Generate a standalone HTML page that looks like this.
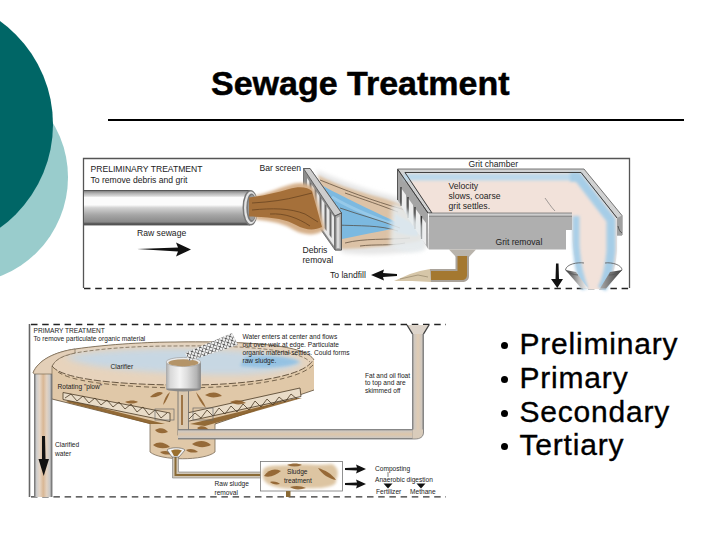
<!DOCTYPE html>
<html><head><meta charset="utf-8">
<style>
html,body{margin:0;padding:0;background:#fff;}
body{width:720px;height:540px;position:relative;overflow:hidden;font-family:"Liberation Sans",sans-serif;}
.abs{position:absolute;}
#title{left:211px;top:63px;font-weight:bold;font-size:34px;letter-spacing:0px;-webkit-text-stroke:0.5px #000;white-space:nowrap;line-height:40px;color:#000;}
#rule{left:108px;top:119px;width:576px;height:2px;background:#000;}
.bl{position:absolute;left:498.5px;font-size:30px;letter-spacing:0.8px;-webkit-text-stroke:0.35px #000;white-space:nowrap;line-height:32px;color:#000;}
.bl i{position:absolute;left:2.7px;width:7px;height:7px;border-radius:50%;background:#000;top:0;}
.bl span{position:absolute;left:21px;top:0;}
svg{position:absolute;left:0;top:0;}
</style></head><body>
<svg width="720" height="540" viewBox="0 0 720 540">
  <circle cx="-38" cy="177.3" r="106" fill="#99CCCC"/>
  <circle cx="-74.3" cy="124.4" r="127.3" fill="#006666"/>
</svg>
<div id="title" class="abs">Sewage Treatment</div>
<div id="rule" class="abs"></div>

<svg id="img1" width="720" height="540" viewBox="0 0 720 540">
  <defs>
    <linearGradient id="pipeG" x1="0" y1="0" x2="0" y2="1">
      <stop offset="0" stop-color="#3a3a3a"/>
      <stop offset="0.04" stop-color="#8a8a8a"/>
      <stop offset="0.09" stop-color="#b0b0b0"/>
      <stop offset="0.17" stop-color="#d8d8d8"/>
      <stop offset="0.21" stop-color="#fbfbfb"/>
      <stop offset="0.42" stop-color="#fbfbfb"/>
      <stop offset="0.5" stop-color="#d2d2d2"/>
      <stop offset="0.7" stop-color="#a6a6a6"/>
      <stop offset="0.9" stop-color="#8a8a8a"/>
      <stop offset="0.96" stop-color="#4a4a4a"/>
      <stop offset="1" stop-color="#6a6a6a"/>
    </linearGradient>
    <filter id="blurU" filterUnits="userSpaceOnUse" x="0" y="0" width="720" height="540"><feGaussianBlur stdDeviation="1.6"/></filter>
    <filter id="blur1" filterUnits="userSpaceOnUse" x="0" y="0" width="720" height="540"><feGaussianBlur stdDeviation="1.6"/></filter>
    <filter id="blur2" filterUnits="userSpaceOnUse" x="0" y="0" width="720" height="540"><feGaussianBlur stdDeviation="0.9"/></filter>
    <filter id="blur4" filterUnits="userSpaceOnUse" x="0" y="0" width="720" height="540"><feGaussianBlur stdDeviation="2.2"/></filter>
    <linearGradient id="funL" x1="0" y1="0" x2="1" y2="0">
      <stop offset="0" stop-color="#333"/><stop offset="0.6" stop-color="#bbb"/><stop offset="1" stop-color="#f4f4f4"/>
    </linearGradient>
    <linearGradient id="funR" x1="0" y1="0" x2="1" y2="0">
      <stop offset="0" stop-color="#aaa"/><stop offset="1" stop-color="#3a3a3a"/>
    </linearGradient>
  </defs>
  <!-- frame -->
  <path d="M83.5 288 V158.5 H629.5 V288" fill="none" stroke="#555" stroke-width="1.3"/>
  <line x1="84" y1="288.5" x2="630" y2="288.5" stroke="#222" stroke-width="1.3" stroke-dasharray="6.5 4.7"/>
  <g font-family="Liberation Sans" font-size="8.6" fill="#222">
    <text x="90.5" y="172">PRELIMINARY TREATMENT</text>
    <text x="90.5" y="182.5">To remove debris and grit</text>
    <text x="259.5" y="170.5">Bar screen</text>
    <text x="468.5" y="167">Grit chamber</text>
    <text x="137" y="236">Raw sewage</text>
    <text x="302.5" y="253">Debris</text>
    <text x="302.5" y="263">removal</text>
    <text x="330" y="278">To landfill</text>
  </g>
  <!-- raw sewage arrow -->
  <path d="M137 249 L178 247.5 L176 242.5 L191 249.5 L176 256.5 L178 251.5 Z" fill="#111"/>
  <!-- pipe -->
  <rect x="84" y="190" width="166" height="35.5" fill="url(#pipeG)"/>
  <ellipse cx="250.5" cy="207.7" rx="8" ry="17.8" fill="#777"/>
  <ellipse cx="250.8" cy="207.7" rx="6.8" ry="16.3" fill="#e4e4e4"/>
  <ellipse cx="251.5" cy="207.7" rx="5.2" ry="14.2" fill="#7a7a7a"/>
  <ellipse cx="252" cy="207.7" rx="4" ry="12.6" fill="#9a9a9a"/>
  <!-- debris water (behind screen) -->
  <path d="M316 170 C335 178 355 186 380 193 C398 197 412 202 424 208 L426 248 C405 254 370 256 343 253 L333 240 Z" fill="#e6e6e6" filter="url(#blur4)"/>
  <path d="M318 175 C333 183 352 190 386 199 C398 203 410 208 420 214 L420 241 C400 245 370 248 342 249 L336 238 Z" fill="#dcc2a6" filter="url(#blur2)"/>
  <path d="M323 186 C336 193 354 202 390 219 L404 226 C390 230 370 233 342 239 L338 214 Z" fill="#7cb9e0"/>
  <path d="M395 214 C402 218 410 222 418 226 L418 236 C410 236 402 234 395 232 Z" fill="#9cc9e6" filter="url(#blur2)"/>
  <path d="M332 197 C350 208 370 216 392 224" stroke="#a8d4ef" stroke-width="3" fill="none" opacity="0.6"/>
  <g stroke="#4a3a2a" stroke-width="0.8" fill="none" opacity="0.8">
    <path d="M320 180 C345 190 370 200 405 210"/>
    <path d="M336 225 C360 226 380 225 398 231"/>
    <path d="M345 243 C365 238 385 240 410 238"/>
    <path d="M340 208 C360 215 380 220 400 228"/>
    <path d="M345 193 C365 200 380 205 398 212"/>
    <path d="M360 246 C375 244 390 246 405 243"/>
  </g>
  <!-- bar screen -->
  <path d="M303.5 168.5 L310 168.5 L341.5 213 L341.5 250 L335 250 L303.5 205 Z" fill="#8c8c8c" stroke="#555" stroke-width="0.7"/>
  <path d="M307 178 L334 217 L334 246 L307 207 Z" fill="#e8e8e8"/>
  <g fill="#6a6a6a">
    <path d="M309.5 181 L311.5 184 L311.5 210 L309.5 207 Z"/>
    <path d="M314.5 188 L316.5 191 L316.5 217 L314.5 214 Z"/>
    <path d="M319.5 195 L321.5 198 L321.5 224 L319.5 221 Z"/>
    <path d="M324.5 203 L326.5 206 L326.5 231 L324.5 228 Z"/>
    <path d="M329.5 210 L331.5 213 L331.5 238 L329.5 235 Z"/>
  </g>
  <path d="M303.5 168.5 L310 168.5 L341.5 213 L335 216 Z" fill="#cdcdcd" stroke="#444" stroke-width="0.7"/>
  <path d="M335 216 L341.5 213 L341.5 250 L335 250 Z" fill="#a6a6a6" stroke="#444" stroke-width="0.7"/>
  <path d="M336.8 218 L339.5 216.5 L339.5 248 L336.8 248 Z" fill="#dadada"/>
  <!-- sludge (in front of screen) -->
  <path d="M256 195.5 C266 194 276 189 289 185 C300 181 309 183 314 189 L325 229 C318 236 305 236 294 230 C285 224 272 221 256 219.5 Z" fill="#d6b08a" filter="url(#blur1)"/>
  <path d="M249 197.5 C262 196 276 193 289 189 C299 186 308 187 312 191 L322 227 C314 231 305 230 296 225 C286 219 272 217 249 216.5 Z" fill="#a5703a"/>
  <g stroke="#5b3a1a" stroke-width="0.8" fill="none" opacity="0.8">
    <path d="M252 203 C270 202 285 200 300 196 L312 193"/>
    <path d="M252 210 C272 208 290 208 305 214 L318 222"/>
    <path d="M270 214 C285 213 298 218 310 226"/>
  </g>
  <!-- grit chamber left side face -->
  <path d="M397.5 169.5 L428 213 L428.5 249.5 L397.5 200 Z" fill="#a4a4a4"/>
  <path d="M397.5 169.5 V200" stroke="#555" stroke-width="1"/>
  <g fill="#eeeeee">
    <path d="M401 188 L406 195 L406 214 L401 206 Z"/>
    <path d="M408 198 L413 205 L413 226 L408 218 Z"/>
    <path d="M415 208 L420 215 L420 236 L415 229 Z"/>
    <path d="M421.5 217 L426 223 L426 245 L421.5 239 Z"/>
  </g>
  <g stroke="#2e2e2e" stroke-width="1.3">
    <line x1="401" y1="187" x2="401" y2="206"/>
    <line x1="408" y1="197" x2="408" y2="218"/>
    <line x1="415" y1="207" x2="415" y2="229"/>
    <line x1="421.5" y1="216" x2="421.5" y2="239"/>
  </g>
  <!-- top rim -->
  <path d="M397.5 169 L405 172.5 L432 213 L428 213 Z" fill="#dadada"/>
  <path d="M397.5 169 L584 169 L622 215.5 L622 235 L617 235 L617 218 L581 172.5 L405 172.5 L432 212.5 L428 213 Z" fill="#d2d2d2" stroke="#555" stroke-width="0.8"/>
  <!-- surface + stream -->
  <path d="M405 172.5 L581 172.5 L617 218 L617 250 C616 265 613 278 606 289 L583 289 C578 275 574 258 572.5 240 L572 213 L432 213 Z" fill="#f2e2da"/>
  <path d="M404 177 L578 177" fill="none" stroke="#bcd9ec" stroke-width="7" filter="url(#blurU)"/>
  <path d="M570 177 L578 177 L611 220 L611 250 C610 264 608 277 602 289" fill="none" stroke="#a6cde7" stroke-width="9" filter="url(#blur1)"/>
  <path d="M576 216 L576 245 C577 262 580 277 585 289" fill="none" stroke="#a9cfe8" stroke-width="7" filter="url(#blur1)"/>
  <path d="M405 172.5 L581 172.5 L617 218" fill="none" stroke="#333" stroke-width="0.9"/>
  <path d="M405 172.5 L432 213 M397.5 169 L428 213" fill="none" stroke="#333" stroke-width="0.9"/>
  <path d="M545 198 C548 202 551 207 555 211" stroke="#666" stroke-width="0.6" fill="none"/>
  <!-- front face -->
  <path d="M429 213 L572 213 L572 230 L566 230 L566 249.5 L429 249.5 Z" fill="#afafaf"/>
  <rect x="429" y="213" width="143" height="3.2" fill="#cdcdcd"/>
  <path d="M429 213 L572 213 M429 216.2 L572 216.2" stroke="#666" stroke-width="0.7"/>
  <g font-family="Liberation Sans" font-size="8.6" fill="#222">
    <text x="448.5" y="189">Velocity</text>
    <text x="448.5" y="199">slows, coarse</text>
    <text x="448.5" y="209">grit settles.</text>
    <text x="495.5" y="245">Grit removal</text>
  </g>
  <path d="M392 205 C400 200 412 215 422 225 L424 250 C412 254 400 252 390 246 Z" fill="#e6ecef" filter="url(#blur4)" opacity="0.85"/>
  <!-- right rim side face -->
  <path d="M617 218 L622 215.5 L622 235 L617 235 Z" fill="#a0a0a0"/>
  <path d="M618 226 C619 230 620 232 622 233" stroke="#333" stroke-width="0.7" fill="none"/>
  <!-- funnel -->
  <path d="M565.5 270 C566 264 578 262 584 263" fill="none" stroke="#555" stroke-width="0.8"/>
  <path d="M605 263 C612 262 622 265 622 270" fill="none" stroke="#555" stroke-width="0.8"/>
  <path d="M565.5 270 L581.5 288.5 L588 288.5 L576 272 Z" fill="url(#funL)"/>
  <path d="M610 272 L600 288.5 L606 288.5 L622 270 Z" fill="url(#funR)"/>
  <path d="M565.5 270 C568 273 574 275 578 275 M609 275 C614 275 620 273 622 270" fill="none" stroke="#555" stroke-width="0.8"/>
  <!-- down arrow -->
  <path d="M556 263.5 L558.5 263.5 L559 279 L563 279 L557.3 288 L551 279 L555.5 279 Z" fill="#111"/>
  <!-- grit removal pipe -->
  <path d="M449 249.5 L476 249.5 L469 257 L456 257 Z" fill="#b9b4ac"/>
  <path d="M455.5 256 L469 256 L469 276 C469 280 466 282 462 282 L430 282 L430 269 L455.5 269 Z" fill="#aaa39a"/>
  <path d="M457.5 256 L467 256 L467 275 C467 278 465 280 462 280 L431 280 L431 271 L457.5 271 Z" fill="#a47830"/>
  <path d="M430 269 L431 282 L412 281 L394 281 L410 274 L420 271 Z" fill="#d6c6a8"/>
  <path d="M400 279 L418 275 L428 277" stroke="#8a7a60" stroke-width="0.6" fill="none"/>
  <!-- to landfill arrow -->
  <path d="M397 274 L383 273 L384 269.5 L371 275 L384 280.5 L383 277 L397 276 Z" fill="#111"/>
</svg>
















<svg id="img2" width="720" height="540" viewBox="0 0 720 540">
  <defs>
    <linearGradient id="wellG" x1="0" y1="0" x2="1" y2="0">
      <stop offset="0" stop-color="#a8a8a8"/>
      <stop offset="0.12" stop-color="#d8d8d8"/>
      <stop offset="0.4" stop-color="#f4f4f4"/>
      <stop offset="0.6" stop-color="#dedede"/>
      <stop offset="0.88" stop-color="#b4b4b4"/>
      <stop offset="1" stop-color="#8a8a8a"/>
    </linearGradient>
    <linearGradient id="lpipeG" x1="0" y1="0" x2="1" y2="0">
      <stop offset="0" stop-color="#7a7a7a"/>
      <stop offset="0.12" stop-color="#cfcfcf"/>
      <stop offset="0.3" stop-color="#e6d6c6"/>
      <stop offset="0.5" stop-color="#d9b794"/>
      <stop offset="0.7" stop-color="#e2d2c2"/>
      <stop offset="0.88" stop-color="#c8c8c8"/>
      <stop offset="1" stop-color="#6a6a6a"/>
    </linearGradient>
    <linearGradient id="hpipeG" x1="0" y1="0" x2="0" y2="1">
      <stop offset="0" stop-color="#7a7a7a"/>
      <stop offset="0.15" stop-color="#cfc8c0"/>
      <stop offset="0.5" stop-color="#ddc6aa"/>
      <stop offset="0.85" stop-color="#cfc8c0"/>
      <stop offset="1" stop-color="#6a6a6a"/>
    </linearGradient>
    <linearGradient id="vpipeG" x1="0" y1="0" x2="1" y2="0">
      <stop offset="0" stop-color="#7a7a7a"/>
      <stop offset="0.15" stop-color="#cfc8c0"/>
      <stop offset="0.5" stop-color="#e0ccb4"/>
      <stop offset="0.85" stop-color="#cfc8c0"/>
      <stop offset="1" stop-color="#6a6a6a"/>
    </linearGradient>
    <pattern id="hatch2" width="4.5" height="4.5" patternUnits="userSpaceOnUse" patternTransform="rotate(-28)">
      <rect width="4.5" height="4.5" fill="#f0f0f0"/>
      <path d="M0 0 L4.5 4.5 M4.5 0 L0 4.5" stroke="#5a5a5a" stroke-width="0.9"/>
    </pattern>
    <filter id="blur3" filterUnits="userSpaceOnUse" x="0" y="0" width="720" height="540"><feGaussianBlur stdDeviation="1.5"/></filter>
    <filter id="blur5" filterUnits="userSpaceOnUse" x="0" y="0" width="720" height="540"><feGaussianBlur stdDeviation="3"/></filter>
  </defs>
  <!-- frame -->
  <path d="M29.5 497 V324" fill="none" stroke="#666" stroke-width="1.6"/>
  <line x1="31" y1="324.5" x2="446" y2="324.5" stroke="#222" stroke-width="1.3" stroke-dasharray="6.5 4.7"/>
  <line x1="31" y1="496.8" x2="446" y2="496.8" stroke="#333" stroke-width="1.3" stroke-dasharray="6.5 4.7"/>

  <!-- tank body -->
  <path d="M33 373 C38 360 55 352 75 349 C110 344 150 342 175 342 C250 341 306 345 314 360 L314 390 L215 424 L215 452 C205 461 160 461 150 452 L150 423.5 L52 399 L52 374 Z" fill="#e0c8a8"/>
  <!-- top surface -->
  <path d="M33 373 C38 360 55 352 75 349 C110 344 150 342 175 342 C250 341 306 345 314 360 C305 376 250 386 175 385 C100 384 60 378 52 366 Z" fill="#e7d3bc"/>
  <path d="M65 357 C90 350 150 348 200 349 C260 351 298 356 303 363 C290 372 250 376 200 374 C140 372 85 368 65 357 Z" fill="#c2d8ea" filter="url(#blur5)" opacity="0.85"/>
  <path d="M245 357 C265 354 292 357 300 362 C288 368 262 369 240 366 Z" fill="#8dbfe3" filter="url(#blur3)" opacity="0.85"/>
  <!-- rim lines -->
  <path d="M33 373 C38 360 55 352 75 349 C110 344 150 342 175 342 C250 341 306 345 314 360" fill="none" stroke="#6a5a45" stroke-width="0.8"/>
  <path d="M52 366 C56 359 62 356 75 353 C110 347 150 346 175 346 C245 345 300 350 310 362" fill="none" stroke="#6a5a45" stroke-width="0.7" stroke-dasharray="4 2"/>
  <path d="M52 366 C60 377 100 384 175 385 C250 386 305 376 313 360" fill="none" stroke="#5a4a35" stroke-width="0.9" stroke-dasharray="7 2"/>
  <path d="M58 372 C70 380 100 386 175 388 C250 388 300 379 313 365" fill="none" stroke="#5a4a35" stroke-width="0.8" stroke-dasharray="5 3"/>
  <path d="M150 423.5 L150 452 C160 461 205 461 215 452 L215 424" fill="none" stroke="#7a6a55" stroke-width="0.8"/>
  <!-- cone edge -->
  <path d="M52 399 L150 423.5 M215 424 L314 390" fill="none" stroke="#5a4a35" stroke-width="0.8"/>
  <!-- plows -->
  <g>
    <path d="M70 400 L165 424 L150 424 L66 402 Z" fill="#8a5f2a" opacity="0.9"/>
    <path d="M63 392.5 L170 413 L170 421.5 L63 399.5 Z" fill="#e9dcc8" stroke="#4a3a25" stroke-width="0.8"/>
    <path d="M65 398 L71 394 L77 401 L83 396 L89 403 L95 398 L101 405 L107 400 L113 407 L119 402 L125 409 L131 404 L137 412 L143 407 L149 415 L155 410 L161 418 L167 413" fill="none" stroke="#4a3a25" stroke-width="0.8"/>
    <path d="M190 424 L296 398 L302 398 L205 426 Z" fill="#8a5f2a" opacity="0.9"/>
    <path d="M187 413 L300 388 L301 396.5 L187 421.5 Z" fill="#e9dcc8" stroke="#4a3a25" stroke-width="0.8"/>
    <path d="M189 419 L195 413 L201 418 L207 410 L213 416 L219 408 L225 414 L231 406 L237 412 L243 404 L249 410 L255 401 L261 407 L267 399 L273 405 L279 397 L285 402 L291 394 L297 399" fill="none" stroke="#4a3a25" stroke-width="0.8"/>
  </g>
  <!-- sludge streaks -->
  <g fill="#8a5a25" opacity="0.85">
    <path d="M150 397 C155 392 160 391 163 393 C160 396 155 398 150 397 Z"/>
    <path d="M196 392 C200 397 204 402 206 408 C201 404 198 398 196 392 Z"/>
    <path d="M205 395 C212 391 218 392 222 396 C215 398 210 398 205 395 Z"/>
    <path d="M125 402 C130 400 135 400 138 402 C133 404 129 404 125 402 Z"/>
    <path d="M230 402 C236 399 242 400 246 403 C240 405 235 405 230 402 Z"/>
    <path d="M170 392 C168 397 166 402 163 405 C164 400 166 395 170 392 Z"/>
    <path d="M155 430 C160 427 165 428 168 432 C163 434 158 434 155 430 Z"/>
    <path d="M192 444 C198 440 206 440 211 445 C205 448 198 448 192 444 Z"/>
    <path d="M153 445 C158 441 165 442 170 447 C164 449 158 449 153 445 Z"/>
    <path d="M197 428 C201 425 206 426 209 430 C204 431 200 431 197 428 Z"/>
    <path d="M160 452 C165 450 170 451 172 454 C168 455 163 455 160 452 Z"/>
    <path d="M186 450 C190 448 195 449 198 452 C193 453 189 453 186 450 Z"/>
    <path d="M205 437 C208 434 211 434 213 437 C210 439 207 439 205 437 Z"/>
  </g>
  <!-- scrapers -->
  <g fill="none" stroke="#6a6a6a" stroke-width="0.7">
    <rect x="155" y="409" width="19" height="11"/>
    <rect x="193" y="408" width="20" height="12"/>
  </g>
  <!-- center column -->
  <rect x="178" y="389" width="10.5" height="46" fill="#dac8b0" stroke="#6a6a6a" stroke-width="0.8"/>
  <path d="M182 395 L182 425" stroke="#8a5a25" stroke-width="1.5"/>
  <!-- effluent pipe -->
  <path d="M178 429.5 H418 V439 H178 Z" fill="url(#hpipeG)"/>
  <!-- right vertical pipe -->
  <path d="M412.5 334 L423.5 334 L423.5 432 C423.5 437 420 439 415 439 L412.5 439 Z" fill="url(#vpipeG)"/>
  <path d="M412.5 429.5 L412.5 439 L415 439 C420 439 423.5 437 423.5 432 L423.5 429.5 Z" fill="#d9ccbb"/>
  <path d="M178 429.5 H412.5 V334 M423.5 334 V432 C423.5 437 420 439 415 439 H178" fill="none" stroke="#7a7a7a" stroke-width="0.8"/>
  <path d="M407 325 L429 325 L423.5 334 L412.5 334 Z" fill="#ddd4ca"/>
  <path d="M407 325 L412.5 334 M429 325 L423.5 334" stroke="#444" stroke-width="1.4"/>
  <!-- center well -->
  <rect x="166" y="362" width="34.7" height="27" fill="url(#wellG)"/>
  <ellipse cx="183.4" cy="389" rx="17.35" ry="2.5" fill="#8a8a8a"/>
  <rect x="166" y="362" width="34.7" height="26.5" fill="url(#wellG)"/>
  <ellipse cx="183.4" cy="362" rx="17.35" ry="4.6" fill="#eaeaea" stroke="#888" stroke-width="0.5"/>
  <ellipse cx="183.4" cy="362.8" rx="15" ry="3.6" fill="#b49468"/>
  <!-- chain feed -->
  <path d="M185 353 L232 333 L238 345 L189 361 Z" fill="url(#hatch2)"/>
  <!-- left pipe -->
  <rect x="34.5" y="373" width="17.5" height="124" fill="url(#lpipeG)"/>
  <path d="M33 373 C38 360 55 352 75 349 L75 353 C62 356 56 359 52 366 L52 374 L34.5 374 Z" fill="#e3cfb8" stroke="#6a5a45" stroke-width="0.6"/>
  <path d="M34.5 374 V497 M52 374 V497" stroke="#777" stroke-width="0.9"/>
  <!-- down arrow -->
  <path d="M42 436 L45 436 L45.5 459 L49 459 L43.7 476 L38.5 459 L42 459 Z" fill="#111"/>
  <!-- sludge pipe -->
  <path d="M172.5 455 L178.5 455 L178.5 472 L262 472 L262 478 L172.5 478 Z" fill="#cfc6b8" stroke="#7a7a7a" stroke-width="0.6"/>
  <path d="M175.5 456 V475 H262" fill="none" stroke="#8a6a35" stroke-width="2"/>
  <path d="M167 450 C170 447 182 447 185 450 L179 457 L172 457 Z" fill="#f4f4f4" stroke="#555" stroke-width="0.6"/>
  <path d="M171 450.5 C174 449 179 449 182 450.5 L177.5 456 L174 456 Z" fill="#9a7030"/>
  <!-- sludge box -->
  <rect x="260.5" y="461.5" width="82" height="29.5" fill="#fff" stroke="#777" stroke-width="0.8"/>
  <rect x="286" y="491" width="4.5" height="6" fill="#8a6a35"/>
  <path d="M263 470 C266 464 280 466 290 465 C305 463 320 466 332 464 C340 468 338 476 336 480 C338 486 325 489 305 488 C290 490 275 488 268 484 C262 480 262 475 263 470 Z" fill="#ddc5a2" filter="url(#blur3)"/>
  <g fill="#8a5a25" opacity="0.85">
    <path d="M264 476 C268 470 274 468 281 471 C276 475 270 478 264 476 Z"/>
    <path d="M318 468 C325 470 332 474 336 480 C329 479 322 474 318 468 Z"/>
    <path d="M287 465 C292 463 298 463 302 465 C297 467 292 467 287 465 Z"/>
    <path d="M290 487 C296 485 302 486 306 488 C300 490 294 490 290 487 Z"/>
    <path d="M270 482 C274 481 278 482 280 484 C276 485 272 484 270 482 Z"/>
  </g>
  <!-- arrows -->
  <path d="M345 468 L357 467.5 L356 464.5 L366 469 L356 473.5 L357 470.5 L345 470 Z" fill="#111"/>
  <path d="M345 483 L357 482.5 L356 479.5 L366 484 L356 488.5 L357 485.5 L345 485 Z" fill="#111"/>
  <path d="M388 472 V477" stroke="#333" stroke-width="0.6"/>
  <path d="M383.5 483.5 L388 488.5 L392.5 483.5 Z" fill="#111"/>
  <path d="M416.5 483.5 L421 488.5 L425.5 483.5 Z" fill="#111"/>
  <!-- texts -->
  <g font-family="Liberation Sans" font-size="6.6" fill="#222">
    <text x="33.5" y="333">PRIMARY TREATMENT</text>
    <text x="33.5" y="340.5">To remove particulate organic material</text>
    <text x="242.5" y="338.5">Water enters at center and flows</text>
    <text x="242.5" y="346.5">out over weir at edge. Particulate</text>
    <text x="242.5" y="354.5">organic material settles. Could forms</text>
    <text x="242.5" y="362.5">raw sludge.</text>
    <text x="110.5" y="369">Clarifier</text>
    <text x="57.5" y="389">Rotating "plow"</text>
    <text x="55" y="447">Clarified</text>
    <text x="55" y="455.5">water</text>
    <text x="214.5" y="486">Raw sludge</text>
    <text x="214.5" y="494.5">removal</text>
    <text x="287" y="474">Sludge</text>
    <text x="284" y="483">treatment</text>
    <text x="365" y="377.5">Fat and oil float</text>
    <text x="365" y="385">to top and are</text>
    <text x="365" y="392.5">skimmed off</text>
    <text x="375" y="470.5">Composting</text>
    <text x="375" y="482">Anaerobic digestion</text>
    <text x="376" y="494">Fertilizer</text>
    <text x="410" y="494">Methane</text>
  </g>
</svg>
















<div class="bl" style="top:328px"><i style="top:14px"></i><span>Preliminary</span></div>
<div class="bl" style="top:362px"><i style="top:14px"></i><span>Primary</span></div>
<div class="bl" style="top:396px"><i style="top:14px"></i><span>Secondary</span></div>
<div class="bl" style="top:429px"><i style="top:14px"></i><span>Tertiary</span></div>
</body></html>
